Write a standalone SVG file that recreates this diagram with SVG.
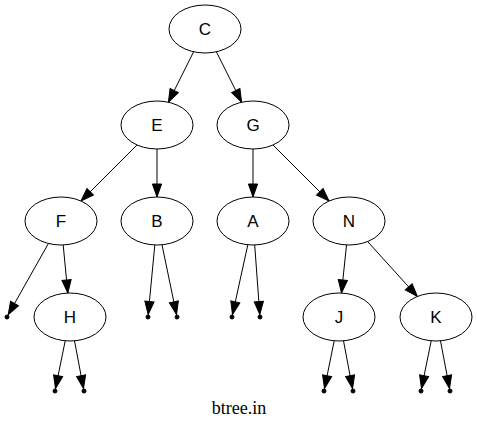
<svg xmlns="http://www.w3.org/2000/svg" width="477" height="430" viewBox="0 0 477 430">
  <style>
    .node ellipse { fill: #ffffff; stroke: #000000; stroke-width: 1; }
    .node text { font-family: "Liberation Sans", Arial, sans-serif; font-size: 17px; text-anchor: middle; fill: #000000; }
    .leaf circle { fill: #000000; stroke: #000000; stroke-width: 1; }
    #edges path { fill: none; stroke: #000000; stroke-width: 1; marker-end: url(#arrow); }
    .caption { font-family: "Liberation Serif", "Times New Roman", serif; font-size: 18px; text-anchor: middle; fill: #000000; }
  </style>
  <defs>
    <marker id="arrow" markerUnits="userSpaceOnUse" orient="auto" markerWidth="15" markerHeight="12" refX="13" refY="6" overflow="visible">
      <path d="M0,1.4 L13,6 L0,10.6 Z" fill="#000000" stroke="#000000" stroke-width="1"/>
    </marker>
  </defs>
  <rect width="477" height="430" fill="#ffffff"/>

  <g id="edges">
    <path d="M193.6,51.8 L168.4,102.2"/>
    <path d="M216.4,51.8 L241.6,102.2"/>
    <path d="M137,145 L81,201"/>
    <path d="M157,149 L157,197"/>
    <path d="M253,149 L253,197"/>
    <path d="M273,145 L329,201"/>
    <path d="M48.4,243.5 L8.2,314.8"/>
    <path d="M63.2,245 L67.8,293"/>
    <path d="M65.2,340.8 L55.5,388.5"/>
    <path d="M74.5,340.8 L83.5,388.5"/>
    <path d="M154.8,245 L148.2,314.5"/>
    <path d="M162,244.8 L176.5,314.6"/>
    <path d="M247.8,244.8 L232.5,314.6"/>
    <path d="M254.7,245 L259.8,314.5"/>
    <path d="M346.5,245 L341.5,293"/>
    <path d="M367.6,241.5 L417.4,296.5"/>
    <path d="M334.2,340.8 L324.5,388.5"/>
    <path d="M343.5,340.8 L352.5,388.5"/>
    <path d="M431.2,340.8 L421.5,388.5"/>
    <path d="M440.5,340.8 L449.5,388.5"/>
  </g>

  <g id="node-C" class="node"><ellipse cx="205" cy="29" rx="36" ry="24"/><text x="205" y="35">C</text></g>
  <g id="node-E" class="node"><ellipse cx="157" cy="125" rx="36" ry="24"/><text x="157" y="131">E</text></g>
  <g id="node-G" class="node"><ellipse cx="253" cy="125" rx="36" ry="24"/><text x="253" y="131">G</text></g>
  <g id="node-F" class="node"><ellipse cx="61" cy="221" rx="36" ry="24"/><text x="61" y="227">F</text></g>
  <g id="node-B" class="node"><ellipse cx="157" cy="221" rx="36" ry="24"/><text x="157" y="227">B</text></g>
  <g id="node-A" class="node"><ellipse cx="253" cy="221" rx="36" ry="24"/><text x="253" y="227">A</text></g>
  <g id="node-N" class="node"><ellipse cx="349" cy="221" rx="36" ry="24"/><text x="349" y="227">N</text></g>
  <g id="node-H" class="node"><ellipse cx="70" cy="317" rx="36" ry="24"/><text x="70" y="323">H</text></g>
  <g id="node-J" class="node"><ellipse cx="339" cy="317" rx="36" ry="24"/><text x="339" y="323">J</text></g>
  <g id="node-K" class="node"><ellipse cx="436" cy="317" rx="36" ry="24"/><text x="436" y="323">K</text></g>

  <g id="leaf-F-left" class="leaf"><circle cx="7" cy="317" r="2"/></g>
  <g id="leaf-H-left" class="leaf"><circle cx="55" cy="391" r="2"/></g>
  <g id="leaf-H-right" class="leaf"><circle cx="84" cy="391" r="2"/></g>
  <g id="leaf-B-left" class="leaf"><circle cx="148" cy="317" r="2"/></g>
  <g id="leaf-B-right" class="leaf"><circle cx="177" cy="317" r="2"/></g>
  <g id="leaf-A-left" class="leaf"><circle cx="232" cy="317" r="2"/></g>
  <g id="leaf-A-right" class="leaf"><circle cx="260" cy="317" r="2"/></g>
  <g id="leaf-J-left" class="leaf"><circle cx="324" cy="391" r="2"/></g>
  <g id="leaf-J-right" class="leaf"><circle cx="353" cy="391" r="2"/></g>
  <g id="leaf-K-left" class="leaf"><circle cx="421" cy="391" r="2"/></g>
  <g id="leaf-K-right" class="leaf"><circle cx="450" cy="391" r="2"/></g>

  <text class="caption" x="239" y="414">btree.in</text>
</svg>
